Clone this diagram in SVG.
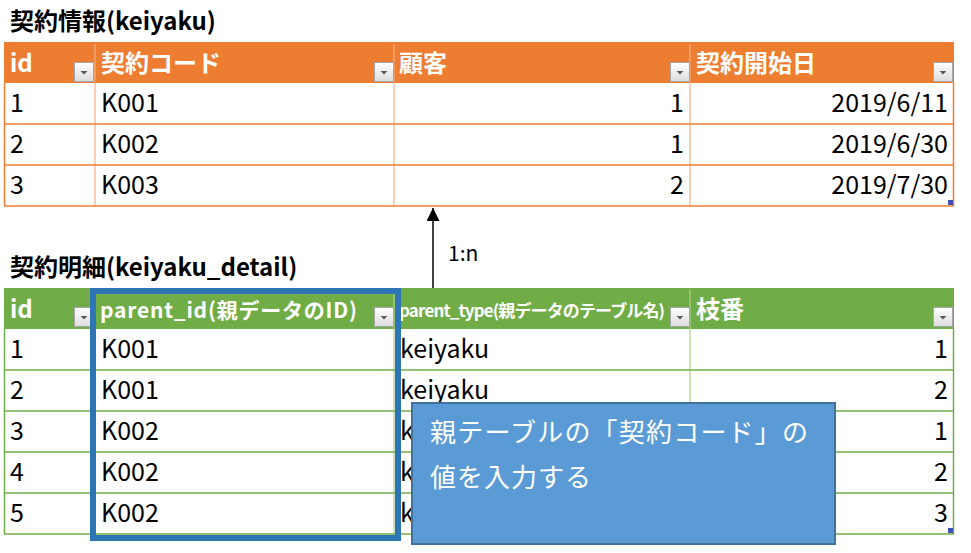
<svg xmlns="http://www.w3.org/2000/svg" width="971" height="553" viewBox="0 0 971 553">
<style>
  text { font-family: "Noto Sans CJK JP", "Liberation Sans", sans-serif; }
  .title { font-size: 24px; font-weight: 700; fill: #000; }
  .hd { font-size: 24px; font-weight: 700; fill: #fff; }
  .cell { font-size: 25px; fill: #000; }
  .num { font-size: 25px; fill: #000; text-anchor: end; }
  .note { font-size: 26px; fill: #fff; }
  .lab { font-size: 21px; fill: #000; }
</style>
<defs>
  <linearGradient id="btnG" x1="0" y1="0" x2="0" y2="1">
    <stop offset="0" stop-color="#ffffff"/>
    <stop offset="1" stop-color="#dcdcdc"/>
  </linearGradient>
  <g id="btn">
    <rect x="0.5" y="0.5" width="19" height="19" fill="url(#btnG)" stroke="#a6a6a6" stroke-width="1"/>
    <polygon points="6.5,9 13.5,9 10,12.5" fill="#595959"/>
  </g>
  <clipPath id="noteClip">
    <rect x="0" y="0" width="411" height="553"/>
  </clipPath>
  <marker id="ah" markerWidth="14" markerHeight="13" refX="13" refY="6.5" orient="auto" markerUnits="userSpaceOnUse" viewBox="0 0 14 13">
    <polygon points="0,0 13,6.5 0,13" fill="#000"/>
  </marker>
</defs>

<g id="keiyaku">
  <text class="title" x="10" y="30">契約情報(keiyaku)</text>
  <rect x="4" y="42" width="950" height="41" fill="#ED7D31"/>
  <rect x="4.5" y="83" width="949" height="123" fill="#fff"/>
  <g stroke="#F4B183" stroke-width="1.2">
    <line x1="95" y1="44" x2="95" y2="206"/>
    <line x1="394" y1="44" x2="394" y2="206"/>
    <line x1="690" y1="44" x2="690" y2="206"/>
  </g>
  <g stroke="#ED7D31" stroke-width="1.5">
    <line x1="4" y1="124" x2="954" y2="124"/>
    <line x1="4" y1="165" x2="954" y2="165"/>
    <line x1="4" y1="206" x2="954" y2="206"/>
    <line x1="4.5" y1="83" x2="4.5" y2="206"/>
    <line x1="953.5" y1="83" x2="953.5" y2="206"/>
  </g>
  <text class="hd" x="10" y="72">id</text>
  <text class="hd" x="101" y="72">契約コード</text>
  <text class="hd" x="399" y="72">顧客</text>
  <text class="hd" x="696" y="72">契約開始日</text>
  <use href="#btn" x="74" y="62"/>
  <use href="#btn" x="374" y="62"/>
  <use href="#btn" x="670" y="62"/>
  <use href="#btn" x="933" y="62"/>
  <text class="cell" x="10" y="112">1</text>
  <text class="cell" x="101" y="112">K001</text>
  <text class="num" x="684" y="112">1</text>
  <text class="num" x="948" y="112">2019/6/11</text>
  <text class="cell" x="10" y="153">2</text>
  <text class="cell" x="101" y="153">K002</text>
  <text class="num" x="684" y="153">1</text>
  <text class="num" x="948" y="153">2019/6/30</text>
  <text class="cell" x="10" y="194">3</text>
  <text class="cell" x="101" y="194">K003</text>
  <text class="num" x="684" y="194">2</text>
  <text class="num" x="948" y="194">2019/7/30</text>
  <rect x="948" y="200" width="5" height="5" fill="#3F51B5"/>
</g>

<g id="keiyaku_detail">
  <text class="title" x="10" y="276">契約明細(keiyaku_detail)</text>
  <rect x="4" y="288" width="950" height="41" fill="#70AD47"/>
  <rect x="4.5" y="329" width="949" height="205" fill="#fff"/>
  <g stroke="#A9D08E" stroke-width="1.2">
    <line x1="95" y1="290" x2="95" y2="534"/>
    <line x1="394" y1="290" x2="394" y2="534"/>
    <line x1="690" y1="290" x2="690" y2="534"/>
  </g>
  <g stroke="#70AD47" stroke-width="1.5">
    <line x1="4" y1="370" x2="954" y2="370"/>
    <line x1="4" y1="411" x2="954" y2="411"/>
    <line x1="4" y1="452" x2="954" y2="452"/>
    <line x1="4" y1="493" x2="954" y2="493"/>
    <line x1="4" y1="534" x2="954" y2="534"/>
    <line x1="4.5" y1="329" x2="4.5" y2="534"/>
    <line x1="953.5" y1="329" x2="953.5" y2="534"/>
  </g>
  <text class="hd" x="10" y="318">id</text>
  <text class="hd" x="100" y="318" style="font-size:21px" textLength="257" lengthAdjust="spacing">parent_id(親データのID)</text>
  <text class="hd" x="399" y="317" style="font-size:17px" textLength="266" lengthAdjust="spacing">parent_type(親データのテーブル名)</text>
  <text class="hd" x="696" y="318">枝番</text>
  <use href="#btn" x="74" y="307"/>
  <use href="#btn" x="374" y="307"/>
  <use href="#btn" x="670" y="307"/>
  <use href="#btn" x="933" y="307"/>
  <text class="cell" x="10" y="358">1</text>
  <text class="cell" x="101" y="358">K001</text>
  <text class="cell" x="400" y="358">keiyaku</text>
  <text class="num" x="948" y="358">1</text>
  <text class="cell" x="10" y="399">2</text>
  <text class="cell" x="101" y="399">K001</text>
  <text class="cell" x="400" y="399">keiyaku</text>
  <text class="num" x="948" y="399">2</text>
  <text class="cell" x="10" y="440">3</text>
  <text class="cell" x="101" y="440">K002</text>
  <text class="cell" x="400" y="440" clip-path="url(#noteClip)">keiyaku</text>
  <text class="num" x="948" y="440">1</text>
  <text class="cell" x="10" y="481">4</text>
  <text class="cell" x="101" y="481">K002</text>
  <text class="cell" x="400" y="481" clip-path="url(#noteClip)">keiyaku</text>
  <text class="num" x="948" y="481">2</text>
  <text class="cell" x="10" y="522">5</text>
  <text class="cell" x="101" y="522">K002</text>
  <text class="cell" x="400" y="522" clip-path="url(#noteClip)">keiyaku</text>
  <text class="num" x="948" y="522">3</text>
  <rect x="948" y="528" width="5" height="5" fill="#3F51B5"/>
</g>

<g id="highlight">
  <rect x="93" y="291" width="305" height="247" fill="none" stroke="#2E75B6" stroke-width="6"/>
</g>

<g id="connectors">
  <line x1="433" y1="288" x2="433" y2="208" stroke="#000" stroke-width="1.5" marker-end="url(#ah)"/>
  <text class="lab" x="448" y="261">1:n</text>
</g>

<g id="note">
  <rect x="412" y="403" width="423" height="141" fill="#5B9BD5" stroke="#41719C" stroke-width="2"/>
  <text class="note" x="430" y="442" textLength="378" lengthAdjust="spacing">親テーブルの「契約コード」の</text>
  <text class="note" x="430" y="487" textLength="161" lengthAdjust="spacing">値を入力する</text>
</g>
</svg>
